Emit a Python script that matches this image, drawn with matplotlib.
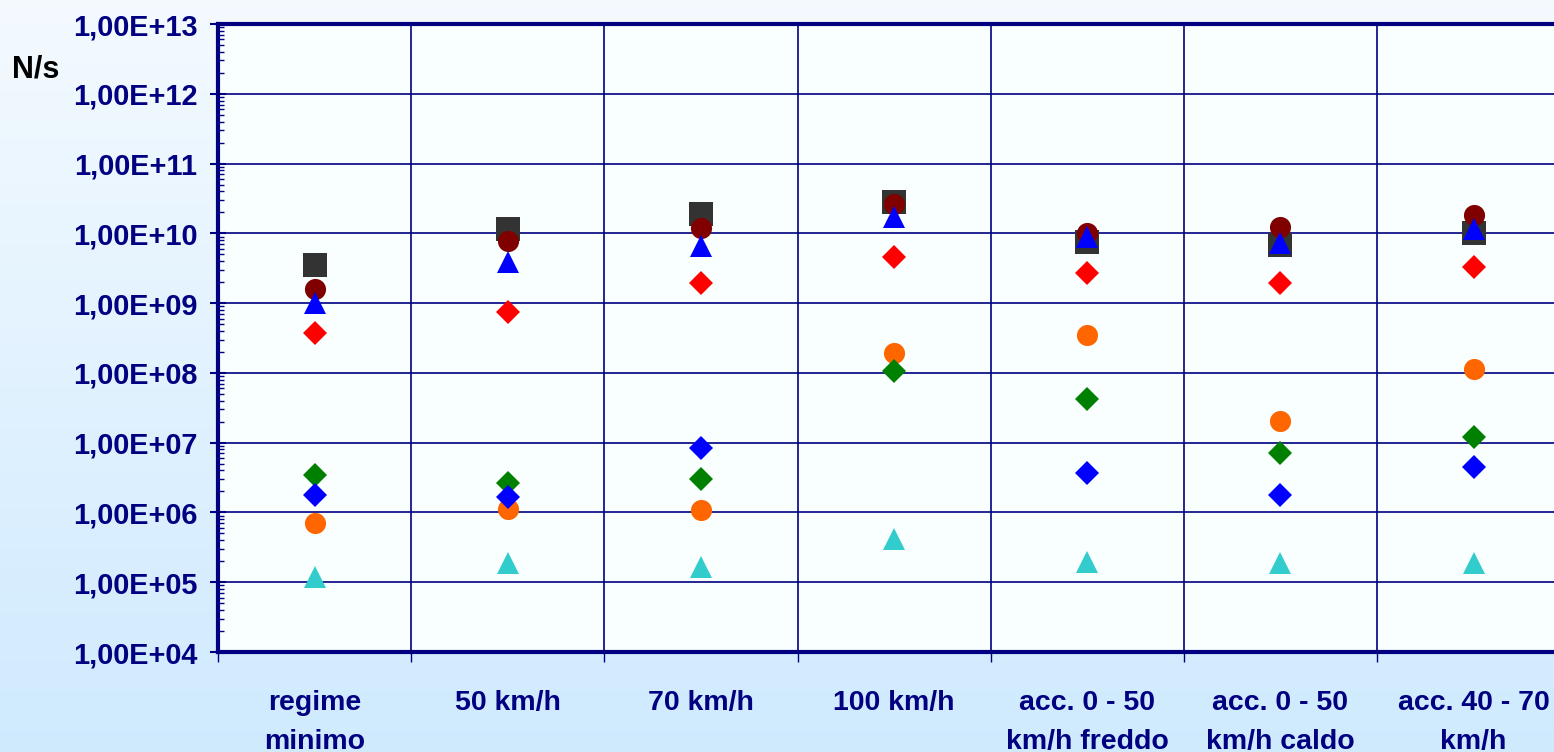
import numpy as np
import matplotlib
matplotlib.use("Agg")
import matplotlib.pyplot as plt
from matplotlib.ticker import FixedLocator, FuncFormatter, LogLocator, NullFormatter

plt.rcParams["font.family"] = ["Liberation Sans", "DejaVu Sans"]

categories = [
    "regime\nminimo",
    "50 km/h",
    "70 km/h",
    "100 km/h",
    "acc. 0 - 50\nkm/h freddo",
    "acc. 0 - 50\nkm/h caldo",
    "acc. 40 - 70\nkm/h",
]

# particle emission rates, N/s, one value per driving condition
grey_square = [3.5e9, 1.14e10, 1.9e10, 2.8e10, 7.6e9, 6.7e9, 1.0e10]
darkred_circle = [1.6e9, 7.8e9, 1.2e10, 2.6e10, 1.0e10, 1.24e10, 1.83e10]
blue_triangle = [1.0e9, 3.9e9, 6.6e9, 1.7e10, 8.8e9, 7.2e9, 1.14e10]
red_diamond = [3.7e8, 7.5e8, 1.94e9, 4.6e9, 2.7e9, 1.92e9, 3.26e9]
orange_circle = [7.1e5, 1.12e6, 1.1e6, 1.93e8, 3.5e8, 2.07e7, 1.12e8]
green_diamond = [3.4e6, 2.6e6, 3.0e6, 1.06e8, 4.2e7, 7.1e6, 1.22e7]
blue_diamond = [1.8e6, 1.68e6, 8.4e6, np.nan, 3.7e6, 1.78e6, 4.5e6]
cyan_triangle = [1.19e5, 1.9e5, 1.65e5, 4.2e5, 1.97e5, 1.87e5, 1.87e5]

y_exponents = list(range(4, 14))

NAVY = "#000080"

fig = plt.figure(figsize=(15.54, 7.52), dpi=100)

# vertical gradient behind everything
bg = fig.add_axes([0, 0, 1, 1], zorder=-10)
top = np.array([0.957, 0.980, 1.000])
bottom = np.array([0.812, 0.918, 0.996])
t = np.linspace(0, 1, 256)[:, None]
grad = (top[None, :] * (1 - t) + bottom[None, :] * t)[:, None, :]
bg.imshow(grad, aspect="auto", extent=[0, 1, 0, 1], origin="upper")
bg.set_axis_off()

W, H = 1554, 752
left_px, right_px, top_px, bottom_px = 218, 1570.2, 24, 652
ax = fig.add_axes([left_px / W, 1 - bottom_px / H,
                   (right_px - left_px) / W, (bottom_px - top_px) / H])
ax.set_facecolor("#F9FEFE")

x = np.arange(len(categories)) + 0.5

series = [
    (grey_square, "s", "#333333", 17.5),
    (darkred_circle, "o", "#800000", 15.2),
    (blue_triangle, "^", "#0000FF", 15.5),
    (red_diamond, "D", "#FF0000", 12.5),
    (orange_circle, "o", "#FF6600", 15.2),
    (green_diamond, "D", "#008000", 12.5),
    (blue_diamond, "D", "#0000FF", 12.5),
    (cyan_triangle, "^", "#33CCCC", 15.5),
]
for i, (vals, mk, col, ms) in enumerate(series):
    ax.plot(x, vals, linestyle="none", marker=mk, color=col,
            markersize=ms, markeredgewidth=0, zorder=3 + i)

ax.set_yscale("log")
ax.set_ylim(1e4, 1e13)
ax.set_xlim(0, len(categories))

ax.yaxis.set_major_locator(FixedLocator([10.0 ** e for e in y_exponents]))
ax.yaxis.set_major_formatter(FuncFormatter(
    lambda v, p: "1,00E+%02d" % int(round(np.log10(v)))))
ax.yaxis.set_minor_locator(LogLocator(base=10, subs=np.arange(2, 10), numticks=100))
ax.yaxis.set_minor_formatter(NullFormatter())

ax.xaxis.set_major_locator(FixedLocator(np.arange(len(categories) + 1)))
ax.xaxis.set_major_formatter(NullFormatter())
ax.xaxis.set_minor_locator(FixedLocator(x))
ax.set_xticklabels(categories, minor=True)

ax.tick_params(axis="y", which="major", direction="inout", length=12, width=1.5,
               color=NAVY, labelcolor=NAVY, labelsize=20.8, pad=9)
ax.tick_params(axis="y", which="minor", direction="in", length=4, width=1,
               color=NAVY)
ax.tick_params(axis="x", which="major", direction="out", length=7.5, width=1,
               color=NAVY)
ax.tick_params(axis="x", which="minor", length=0, labelcolor=NAVY,
               labelsize=20.5, pad=27.5)
for lab in ax.get_yticklabels() + ax.get_xticklabels(minor=True):
    lab.set_fontweight("bold")
for lab in ax.get_xticklabels(minor=True):
    lab.set_linespacing(1.62)
    lab.set_verticalalignment("top")

ax.grid(True, which="major", color=NAVY, linewidth=1.2)
ax.set_axisbelow(True)

for side in ("left", "bottom", "top"):
    ax.spines[side].set_color(NAVY)
    ax.spines[side].set_linewidth(3)
ax.spines["right"].set_visible(False)

fig.text(12 / W, 1 - 70 / H, "N/s", fontsize=22, fontweight="bold",
         color="black", ha="left", va="center")

fig.savefig("out.png", dpi=100)
